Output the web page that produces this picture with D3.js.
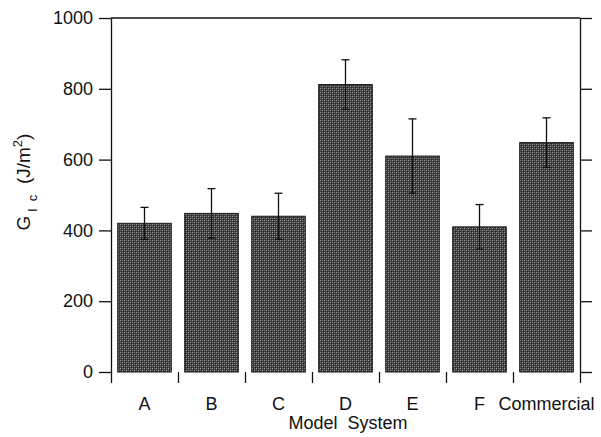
<!DOCTYPE html>
<html>
<head>
<meta charset="utf-8">
<script src="https://cdn.jsdelivr.net/npm/d3@7"></script>
<style>
  body { margin: 0; background: #fff; }
  svg text { font-family: "Liberation Sans", Arial, Helvetica, sans-serif; fill: #111; }
</style>
</head>
<body>
<div id="chart"></div>
<script>
// data
const categories = ['A', 'B', 'C', 'D', 'E', 'F', 'Commercial'];
const gicValues = [420, 448, 440, 812, 610, 410, 648];
const gicErrors = [45, 70, 65, 70, 105, 63, 70];
const yTicks = [0, 200, 400, 600, 800, 1000];

const width = 601, height = 437;
const plotLeft = 111, plotRight = 580, plotTop = 18, plotBottom = 372;

const svg = d3.select('#chart')
  .append('svg')
  .attr('width', width)
  .attr('height', height);

// halftone-ish fill for the bars
const defs = svg.append('defs');
const pat = defs.append('pattern')
  .attr('id', 'dots')
  .attr('width', 4)
  .attr('height', 4)
  .attr('patternUnits', 'userSpaceOnUse');
pat.append('rect').attr('width', 4).attr('height', 4).attr('fill', '#404040');
pat.append('rect').attr('x', 0).attr('y', 0).attr('width', 1).attr('height', 1).attr('fill', '#a0a0a0');
pat.append('rect').attr('x', 2).attr('y', 2).attr('width', 1).attr('height', 1).attr('fill', '#a0a0a0');
pat.append('rect').attr('x', 2).attr('y', 0).attr('width', 1).attr('height', 1).attr('fill', '#707070');
pat.append('rect').attr('x', 0).attr('y', 2).attr('width', 1).attr('height', 1).attr('fill', '#707070');
pat.append('rect').attr('x', 1).attr('y', 1).attr('width', 1).attr('height', 1).attr('fill', '#222');
pat.append('rect').attr('x', 3).attr('y', 3).attr('width', 1).attr('height', 1).attr('fill', '#222');

const x = d3.scaleBand()
  .domain(categories)
  .range([plotLeft, plotRight]);

const xEdge = d3.scaleLinear()
  .domain([0, categories.length])
  .range([plotLeft, plotRight]);

const y = d3.scaleLinear()
  .domain([0, 1000])
  .range([plotBottom, plotTop]);

const barInset = x.bandwidth() * 0.1;

// bars
svg.selectAll('rect.bar')
  .data(gicValues)
  .enter()
  .append('rect')
  .attr('class', 'bar')
  .attr('x', (d, i) => x(categories[i]) + barInset)
  .attr('y', (d) => y(d))
  .attr('width', x.bandwidth() - 2 * barInset)
  .attr('height', (d) => y(0) - y(d))
  .attr('fill', 'url(#dots)')
  .attr('stroke', '#1a1a1a')
  .attr('stroke-width', 1);

// error bars
const errG = svg.append('g')
  .attr('stroke', '#111')
  .attr('stroke-width', 1.3);
gicValues.forEach((v, i) => {
  const cx = x(categories[i]) + x.bandwidth() / 2;
  const hi = y(v + gicErrors[i]);
  const lo = y(v - gicErrors[i]);
  errG.append('line').attr('x1', cx).attr('x2', cx).attr('y1', hi).attr('y2', lo);
  errG.append('line').attr('x1', cx - 4).attr('x2', cx + 4).attr('y1', hi).attr('y2', hi);
  errG.append('line').attr('x1', cx - 4).attr('x2', cx + 4).attr('y1', lo).attr('y2', lo);
});

// left axis
const yAxis = svg.append('g')
  .attr('transform', `translate(${plotLeft},0)`)
  .call(d3.axisLeft(y).tickValues(yTicks).tickSize(12).tickSizeOuter(0).tickPadding(6).tickFormat(d3.format('d')));
yAxis.selectAll('text').attr('font-size', 18);

// right axis
svg.append('g')
  .attr('transform', `translate(${plotRight},0)`)
  .call(d3.axisRight(y).tickValues(yTicks).tickSize(12).tickSizeOuter(0).tickFormat(''));

// top frame line
svg.append('line')
  .attr('x1', plotLeft).attr('x2', plotRight)
  .attr('y1', plotTop).attr('y2', plotTop)
  .attr('stroke', '#111')
  .attr('stroke-width', 1.3);

// bottom ticks at category boundaries
svg.append('g')
  .attr('transform', `translate(0,${plotBottom})`)
  .call(d3.axisBottom(xEdge).ticks(categories.length).tickSize(11).tickFormat(''))
  .call((g) => g.select('.domain').remove());

// category labels
const xAxis = svg.append('g')
  .attr('transform', `translate(0,${plotBottom})`)
  .call(d3.axisBottom(x).tickSize(0).tickPadding(25))
  .call((g) => g.select('.domain').remove());
xAxis.selectAll('text').attr('font-size', 18);

svg.selectAll('.domain, .tick line').attr('stroke', '#111').attr('stroke-width', 1.3);

// x title
svg.append('text')
  .attr('x', 348)
  .attr('y', 429)
  .attr('text-anchor', 'middle')
  .attr('font-size', 18)
  .style('white-space', 'pre')
  .text('Model  System');

// y title
const yt = svg.append('text')
  .attr('transform', 'translate(30,182) rotate(-90)')
  .attr('text-anchor', 'middle')
  .attr('font-size', 19)
  .style('white-space', 'pre');
yt.append('tspan').text('G');
yt.append('tspan').attr('font-size', 13).attr('dy', 7).text(' I  c');
yt.append('tspan').attr('dy', -7).text('  (J/m');
yt.append('tspan').attr('font-size', 13).attr('dy', -8).text('2');
yt.append('tspan').attr('dy', 8).text(')');
</script>
</body>
</html>
